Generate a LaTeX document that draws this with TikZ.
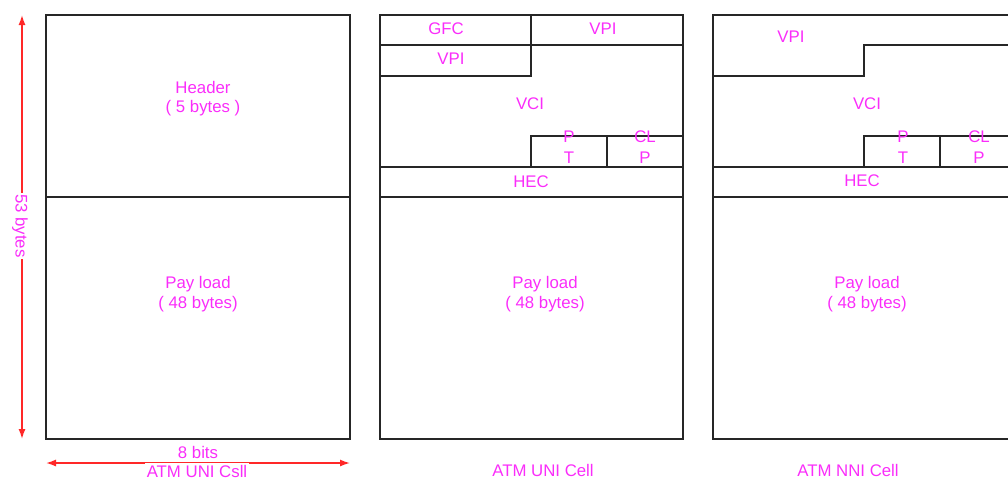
\documentclass[tikz,border=0pt]{standalone}
\usepackage{fontspec}
\setmainfont{Liberation Sans}
\usetikzlibrary{arrows.meta}
\definecolor{lbl}{RGB}{250,45,250}
\definecolor{arr}{RGB}{255,40,40}
\tikzset{
  box/.style={draw=black!85, line width=1.5pt},
  field/.style={draw=black!85, line width=1.3pt},
  lab/.style={text=lbl, inner sep=0pt, font=\fontsize{16.8}{19}\selectfont},
  dim/.style={draw=arr, line width=1.4pt, {Latex[length=10pt,width=7pt]}-{Latex[length=10pt,width=7pt]}},
  gap/.style={fill=white, inner sep=1.5pt}
}
\begin{document}
\begin{tikzpicture}[x=1pt,y=-1pt]
\useasboundingbox (0,0) rectangle (1008,480);
% ---------- box 1 ----------
\draw[box] (46,15) rectangle (350,439);
\draw[field] (46,197) -- (350,197);
\node[lab] (hdr) at (203,87) {Header};
\node[lab] (hdrb) at (203,108) {( 5 bytes )};
\node[lab] (pl1) at (198,284) {Pay load};
\node[lab] (pl1b) at (198,304) {( 48 bytes)};
% dimension arrows
\coordinate (vt) at (22,15);
\coordinate (vb) at (22,439);
\draw[dim] (vt) -- (vb);
\node[lab, gap, rotate=-90] (v53) at (20,226) {53 bytes};
\coordinate (hl) at (46,463);
\coordinate (hr) at (350,463);
\draw[dim] (hl) -- (hr);
\node[lab] (b8) at (198,452) {8 bits};
\node[lab, gap] (cap1) at (197,471) {ATM UNI Csll};
% ---------- box 2 ----------
\draw[box] (380,15) rectangle (683,439);
\draw[field] (380,45) -- (683,45);
\draw[field] (531,15) -- (531,76) -- (380,76);
\draw[field] (380,167) -- (683,167);
\draw[field] (380,197) -- (683,197);
\draw[field] (531,167) -- (531,136) -- (683,136);
\draw[field] (607,136) -- (607,167);
\node[lab] (gfc) at (446,29) {GFC};
\node[lab] (vpi2a) at (603,29) {VPI};
\node[lab] (vpi2b) at (451,59) {VPI};
\node[lab] (vci2) at (530,104) {VCI};
\node[lab] (pt2a) at (569,137) {P};
\node[lab] (pt2b) at (569,158) {T};
\node[lab] (clp2a) at (645,137) {CL};
\node[lab] (clp2b) at (645,158) {P};
\node[lab] (hec2) at (531,182) {HEC};
\node[lab] (pl2) at (545,284) {Pay load};
\node[lab] (pl2b) at (545,304) {( 48 bytes)};
\node[lab] (cap2) at (543,470) {ATM UNI Cell};
% ---------- box 3 ----------
\draw[box] (713,15) rectangle (1017,439);
\draw[field] (713,76) -- (864,76) -- (864,45) -- (1017,45);
\draw[field] (713,167) -- (1017,167);
\draw[field] (713,197) -- (1017,197);
\draw[field] (864,167) -- (864,136) -- (1017,136);
\draw[field] (940,136) -- (940,167);
\node[lab] (vpi3) at (791,37) {VPI};
\node[lab] (vci3) at (867,104) {VCI};
\node[lab] (pt3a) at (903,137) {P};
\node[lab] (pt3b) at (903,158) {T};
\node[lab] (clp3a) at (979,137) {CL};
\node[lab] (clp3b) at (979,158) {P};
\node[lab] (hec3) at (862,181) {HEC};
\node[lab] (pl3) at (867,284) {Pay load};
\node[lab] (pl3b) at (867,304) {( 48 bytes)};
\node[lab] (cap3) at (848,470) {ATM NNI Cell};
\end{tikzpicture}
\end{document}
